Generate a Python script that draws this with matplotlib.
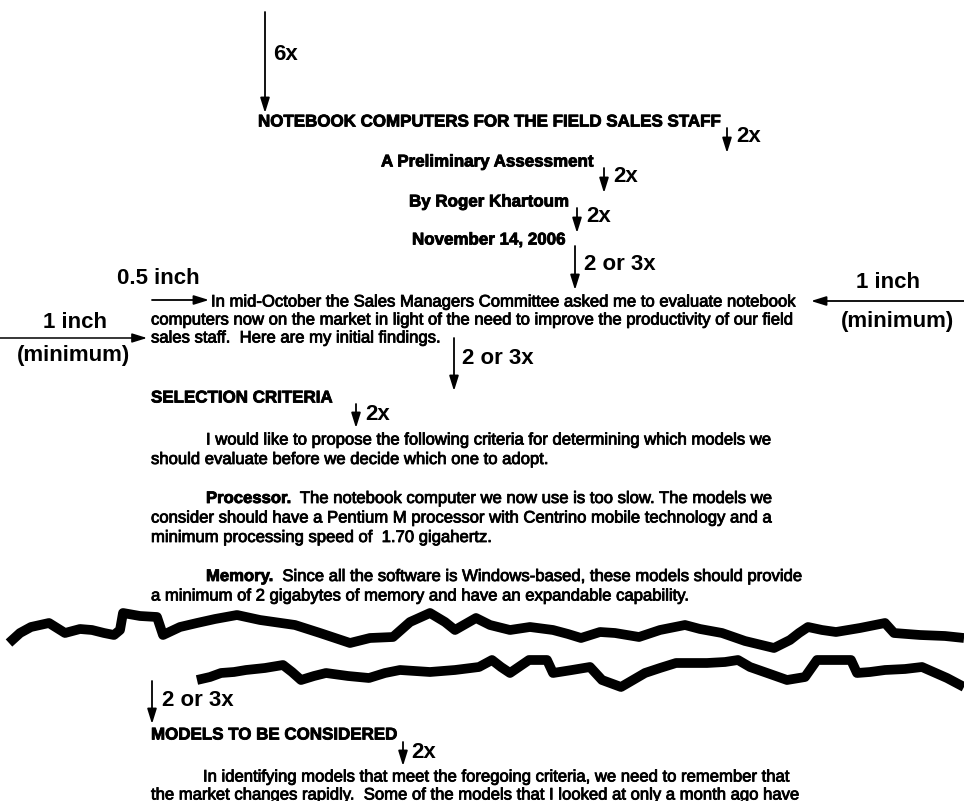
import matplotlib
matplotlib.use('Agg')
import matplotlib.pyplot as plt
import matplotlib.patheffects as pe

plt.rcParams['font.family'] = ['Liberation Sans', 'DejaVu Sans']

# heading lines of the memo
title_lines = ["NOTEBOOK COMPUTERS FOR THE FIELD SALES STAFF",
               "A Preliminary Assessment",
               "By Roger Khartoum",
               "November 14, 2006"]

intro_lines = ["In mid-October the Sales Managers Committee asked me to evaluate notebook",
               "computers now on the market in light of the need to improve the productivity of our field",
               "sales staff.  Here are my initial findings."]

section_heads = ["SELECTION CRITERIA", "MODELS TO BE CONSIDERED"]

criteria_lines = ["I would like to propose the following criteria for determining which models we",
                  "should evaluate before we decide which one to adopt."]

processor_head = "Processor."
processor_lines = ["  The notebook computer we now use is too slow. The models we",
                   "consider should have a Pentium M processor with Centrino mobile technology and a",
                   "minimum processing speed of  1.70 gigahertz."]

memory_head = "Memory."
memory_lines = ["  Since all the software is Windows-based, these models should provide",
                "a minimum of 2 gigabytes of memory and have an expandable capability."]

models_lines = ["In identifying models that meet the foregoing criteria, we need to remember that",
                "the market changes rapidly.  Some of the models that I looked at only a month ago have"]

# spacing labels
space_labels = ["6x", "2x", "2x", "2x", "2 or 3x", "2 or 3x", "2x", "2 or 3x", "2x"]
margin_labels = ["0.5 inch", "1 inch", "(minimum)"]

# traced torn-paper edges (pixel coords)
tear1_x = [9, 20, 31, 49, 57, 65, 80, 92, 104, 114, 120, 123, 140, 157, 163, 180, 197, 215, 237,
           260, 295, 320, 350, 370, 393, 410, 430, 445, 455, 476, 490, 510, 530, 553, 568, 581,
           600, 615, 639, 660, 685, 700, 722, 745, 774, 790, 799, 808, 822, 836, 860, 885, 894,
           920, 945, 964]
tear1_y = [643, 633, 627, 623, 628, 633, 629, 630, 633, 635, 630, 613, 616, 617, 635, 627, 623,
           619, 615, 620, 625, 633, 643, 638, 637, 622, 613, 622, 630, 618, 625, 630, 627, 630,
           634, 638, 632, 633, 637, 630, 625, 629, 633, 641, 648, 640, 633, 627, 630, 632, 628,
           623, 633, 635, 636, 638]
tear2_x = [197, 210, 221, 234, 246, 265, 283, 292, 301, 314, 326, 348, 369, 385, 400, 415, 430,
           455, 479, 492, 501, 510, 529, 547, 553, 572, 590, 602, 621, 633, 645, 660, 676, 707,
           725, 738, 750, 770, 787, 805, 817, 835, 851, 857, 870, 885, 905, 922, 947, 964]
tear2_y = [680, 677, 673, 672, 670, 668, 665, 672, 680, 676, 673, 676, 678, 673, 670, 671, 672,
           670, 667, 660, 667, 673, 660, 660, 673, 670, 667, 680, 687, 680, 673, 668, 663, 663,
           662, 660, 667, 674, 680, 677, 660, 660, 660, 673, 672, 670, 669, 667, 678, 687]

fig = plt.figure(figsize=(9.64, 8.01), dpi=100)
ax = fig.add_axes([0, 0, 1, 1])
ax.set_xlim(0, 964)
ax.set_ylim(801, 0)
ax.axis('off')

heavy = [pe.withStroke(linewidth=0.6, foreground='black')]
BODY = 12.0
HEAD = 12.2
LAB = 16


def body(x, y, s, bold=False, size=BODY):
    return ax.text(x, y, s, fontsize=size, fontweight='bold' if bold else 'normal',
                   ha='left', va='center', path_effects=heavy)


def label(x, y, s, ha='left'):
    ax.text(x, y, s, fontsize=LAB, fontweight='bold', ha=ha, va='center')


def arrow(x0, y0, x1, y1, lw=1.3):
    ax.annotate('', xy=(x1, y1), xytext=(x0, y0),
                arrowprops=dict(arrowstyle='-|>,head_length=0.9,head_width=0.28',
                                lw=lw, color='black', mutation_scale=10,
                                shrinkA=0, shrinkB=0))


# heading block
arrow(265, 12, 265, 113)
label(273, 55, space_labels[0])
body(258, 122, title_lines[0], bold=True, size=HEAD)
arrow(727, 128, 727, 153)
label(736, 137, space_labels[1])
body(381, 162, title_lines[1], bold=True, size=HEAD)
arrow(604, 168, 604, 193)
label(613, 177, space_labels[2])
body(409, 202, title_lines[2], bold=True, size=HEAD)
arrow(577, 208, 577, 233)
label(586, 217, space_labels[3])
body(412, 240, title_lines[3], bold=True, size=HEAD)
arrow(575, 246, 575, 290)
label(584, 264, space_labels[4])

# margins
label(117, 278, margin_labels[0])
arrow(152, 300, 209, 300)
label(888, 283, margin_labels[1], ha='center')
arrow(964, 301, 811, 301)
label(897, 321, margin_labels[2], ha='center')
label(75, 322, margin_labels[1], ha='center')
arrow(0, 338, 147, 338, lw=1.1)
label(74, 356, margin_labels[2], ha='center')

# intro paragraph
body(211, 302, intro_lines[0])
body(151, 320, intro_lines[1])
body(151, 338, intro_lines[2])
arrow(454, 338, 454, 391)
label(462, 359, space_labels[5])

# selection criteria
body(151, 398, section_heads[0], bold=True, size=HEAD)
arrow(356, 404, 356, 428)
label(365, 414, space_labels[6])

step = 19.5
y = 440
body(206, y, criteria_lines[0])
body(151, y + step, criteria_lines[1])

y = 440 + 3 * step
t = body(206, y, processor_head, bold=True)
fig.canvas.draw()
bb = t.get_window_extent().transformed(ax.transData.inverted())
body(bb.x1, y, processor_lines[0])
body(151, y + step, processor_lines[1])
body(151, y + 2 * step, processor_lines[2])

y = 440 + 7 * step
t = body(206, y, memory_head, bold=True)
fig.canvas.draw()
bb = t.get_window_extent().transformed(ax.transData.inverted())
body(bb.x1, y, memory_lines[0])
body(151, y + step, memory_lines[1])

# torn edges
ax.plot(tear1_x, tear1_y, color='black', lw=7, solid_joinstyle='round', solid_capstyle='butt')
ax.plot(tear2_x, tear2_y, color='black', lw=7, solid_joinstyle='round', solid_capstyle='butt')

# models section
arrow(152, 681, 152, 724)
label(162, 701, space_labels[7])
body(151, 735, section_heads[1], bold=True, size=HEAD)
arrow(403, 742, 403, 766)
label(411, 753, space_labels[8])
body(203, 777, models_lines[0])
body(151, 795, models_lines[1])

fig.savefig('out.png', dpi=100, facecolor='white')
